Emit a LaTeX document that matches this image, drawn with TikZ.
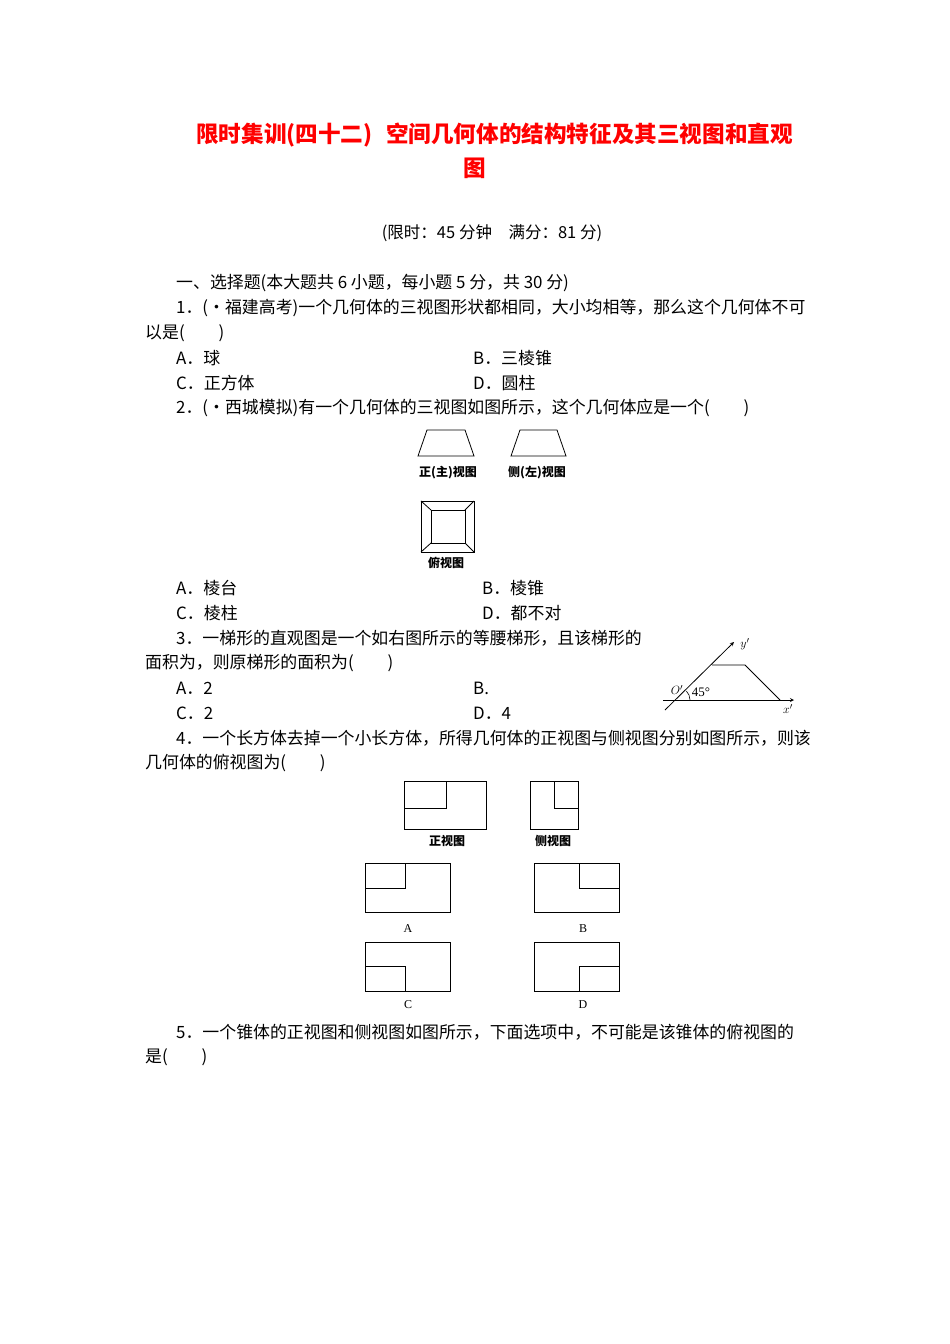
\documentclass[tikz,border=0pt]{standalone}
\usepackage{fontspec}
\setmainfont{Noto Sans CJK SC}
\newfontfamily\ser{Liberation Serif}
\begin{document}
\begin{tikzpicture}[x=1pt,y=-1pt,
  txt/.style={anchor=west,inner sep=0pt,font=\fontsize{16.9}{17}\selectfont},
  figcap/.style={inner sep=0pt,font=\fontsize{12}{12}\selectfont\bfseries},
  ln/.style={line width=0.8pt},
  lbl/.style={inner sep=0pt,font=\ser\itshape\fontsize{13}{13}\selectfont}]
\useasboundingbox (0,0) rectangle (950,1344);
\fill[white] (0,0) rectangle (950,1344);
% title
\node[anchor=west,inner sep=0pt,text=red,font=\fontsize{22.6}{23}\selectfont\bfseries] (t1) at (196,135) {限时集训(四十二)\hspace{0.6em}空间几何体的结构特征及其三视图和直观};
\node[inner sep=0pt,text=red,font=\fontsize{22.6}{23}\selectfont\bfseries] (t2) at (475,168) {图};
\node[inner sep=0pt,font=\fontsize{16.5}{17}\selectfont] (lim) at (492,233) {(限时：45 分钟\hspace{1em}满分：81 分)};
\node[txt] (s1) at (176,283) {一、选择题(本大题共 6 小题，每小题 5 分，共 30 分)};
\node[txt] (q1) at (176,308) {1．(·福建高考)一个几何体的三视图形状都相同，大小均相等，那么这个几何体不可};
\node[txt] (q1b) at (145,333) {以是(\hspace{2em})};
\node[txt] (q1A) at (176,358) {A．球};
\node[txt] (q1B) at (473,358) {B．三棱锥};
\node[txt] (q1C) at (176,383) {C．正方体};
\node[txt] (q1D) at (473,383) {D．圆柱};
\node[txt] (q2) at (176,408) {2．(·西城模拟)有一个几何体的三视图如图所示，这个几何体应是一个(\hspace{2em})};
% q2 figures
\draw[ln] (427,430) -- (465,430) -- (474,456) -- (418,456) -- cycle;
\draw[ln] (520,430) -- (557,430) -- (566,456) -- (511,456) -- cycle;
\node[figcap] (c1) at (448,473) {正(主)视图};
\node[figcap] (c2) at (537,473) {侧(左)视图};
\draw[ln] (421,501) rectangle (474,552);
\draw[ln] (431,510) rectangle (465,543);
\draw[ln] (421,501) -- (431,510) (474,501) -- (465,510) (421,552) -- (431,543) (474,552) -- (465,543);
\node[figcap] (c3) at (446,563) {俯视图};
\node[txt] (q2A) at (176,588) {A．棱台};
\node[txt] (q2B) at (482,588) {B．棱锥};
\node[txt] (q2C) at (176,613) {C．棱柱};
\node[txt] (q2D) at (482,613) {D．都不对};
\node[txt] (q3) at (176,638) {3．一梯形的直观图是一个如右图所示的等腰梯形，且该梯形的};
\node[txt] (q3b) at (145,663) {面积为，则原梯形的面积为(\hspace{2em})};
\node[txt] (q3A) at (176,688) {A．2};
\node[txt] (q3B) at (473,688) {B.};
\node[txt] (q3C) at (176,713) {C．2};
\node[txt] (q3D) at (473,713) {D．4};
% q3 figure
\coordinate (xs) at (663,700); \coordinate (xe) at (794,700);
\coordinate (ys) at (665,710); \coordinate (ye) at (734,642);
\draw[ln,-stealth] (xs) -- (xe);
\draw[ln,-stealth] (ys) -- (ye);
\draw[ln] (712,665) -- (745,665) -- (780,700);
\draw[line width=0.6pt] (690,700) arc[start angle=0,end angle=-44,radius=13];
\node[lbl] (O) at (677,690) {$O'$};
\node[inner sep=0pt,font=\ser\fontsize{13}{13}\selectfont] (ang) at (701,692) {45°};
\node[lbl] (yl) at (745,644) {$y'$};
\node[lbl] (xl) at (788,709) {$x'$};
\node[txt] (q4) at (176,738) {4．一个长方体去掉一个小长方体，所得几何体的正视图与侧视图分别如图所示，则该};
\node[txt] (q4b) at (145,763) {几何体的俯视图为(\hspace{2em})};
% q4 figures
\draw[ln] (404,781) rectangle (486,829);
\draw[ln] (446,781) -- (446,808) -- (404,808);
\node[figcap] (c4) at (447,841) {正视图};
\draw[ln] (530,781) rectangle (578,829);
\draw[ln] (554,781) -- (554,808) -- (578,808);
\node[figcap] (c5) at (553,841) {侧视图};
\draw[ln] (365,863) rectangle (450,912);
\draw[ln] (405,863) -- (405,888) -- (365,888);
\node[inner sep=0pt,font=\ser\fontsize{12}{12}\selectfont] (la) at (408,929) {A};
\draw[ln] (534,863) rectangle (619,912);
\draw[ln] (579,863) -- (579,888) -- (619,888);
\node[inner sep=0pt,font=\ser\fontsize{12}{12}\selectfont] (lb) at (583,929) {B};
\draw[ln] (365,942) rectangle (450,991);
\draw[ln] (365,966) -- (405,966) -- (405,991);
\node[inner sep=0pt,font=\ser\fontsize{12}{12}\selectfont] (lc) at (408,1005) {C};
\draw[ln] (534,942) rectangle (619,991);
\draw[ln] (619,966) -- (579,966) -- (579,991);
\node[inner sep=0pt,font=\ser\fontsize{12}{12}\selectfont] (ld) at (583,1005) {D};
\node[txt] (q5) at (176,1032) {5．一个锥体的正视图和侧视图如图所示，下面选项中，不可能是该锥体的俯视图的};
\node[txt] (q5b) at (145,1057) {是(\hspace{2em})};
\end{tikzpicture}
\end{document}
